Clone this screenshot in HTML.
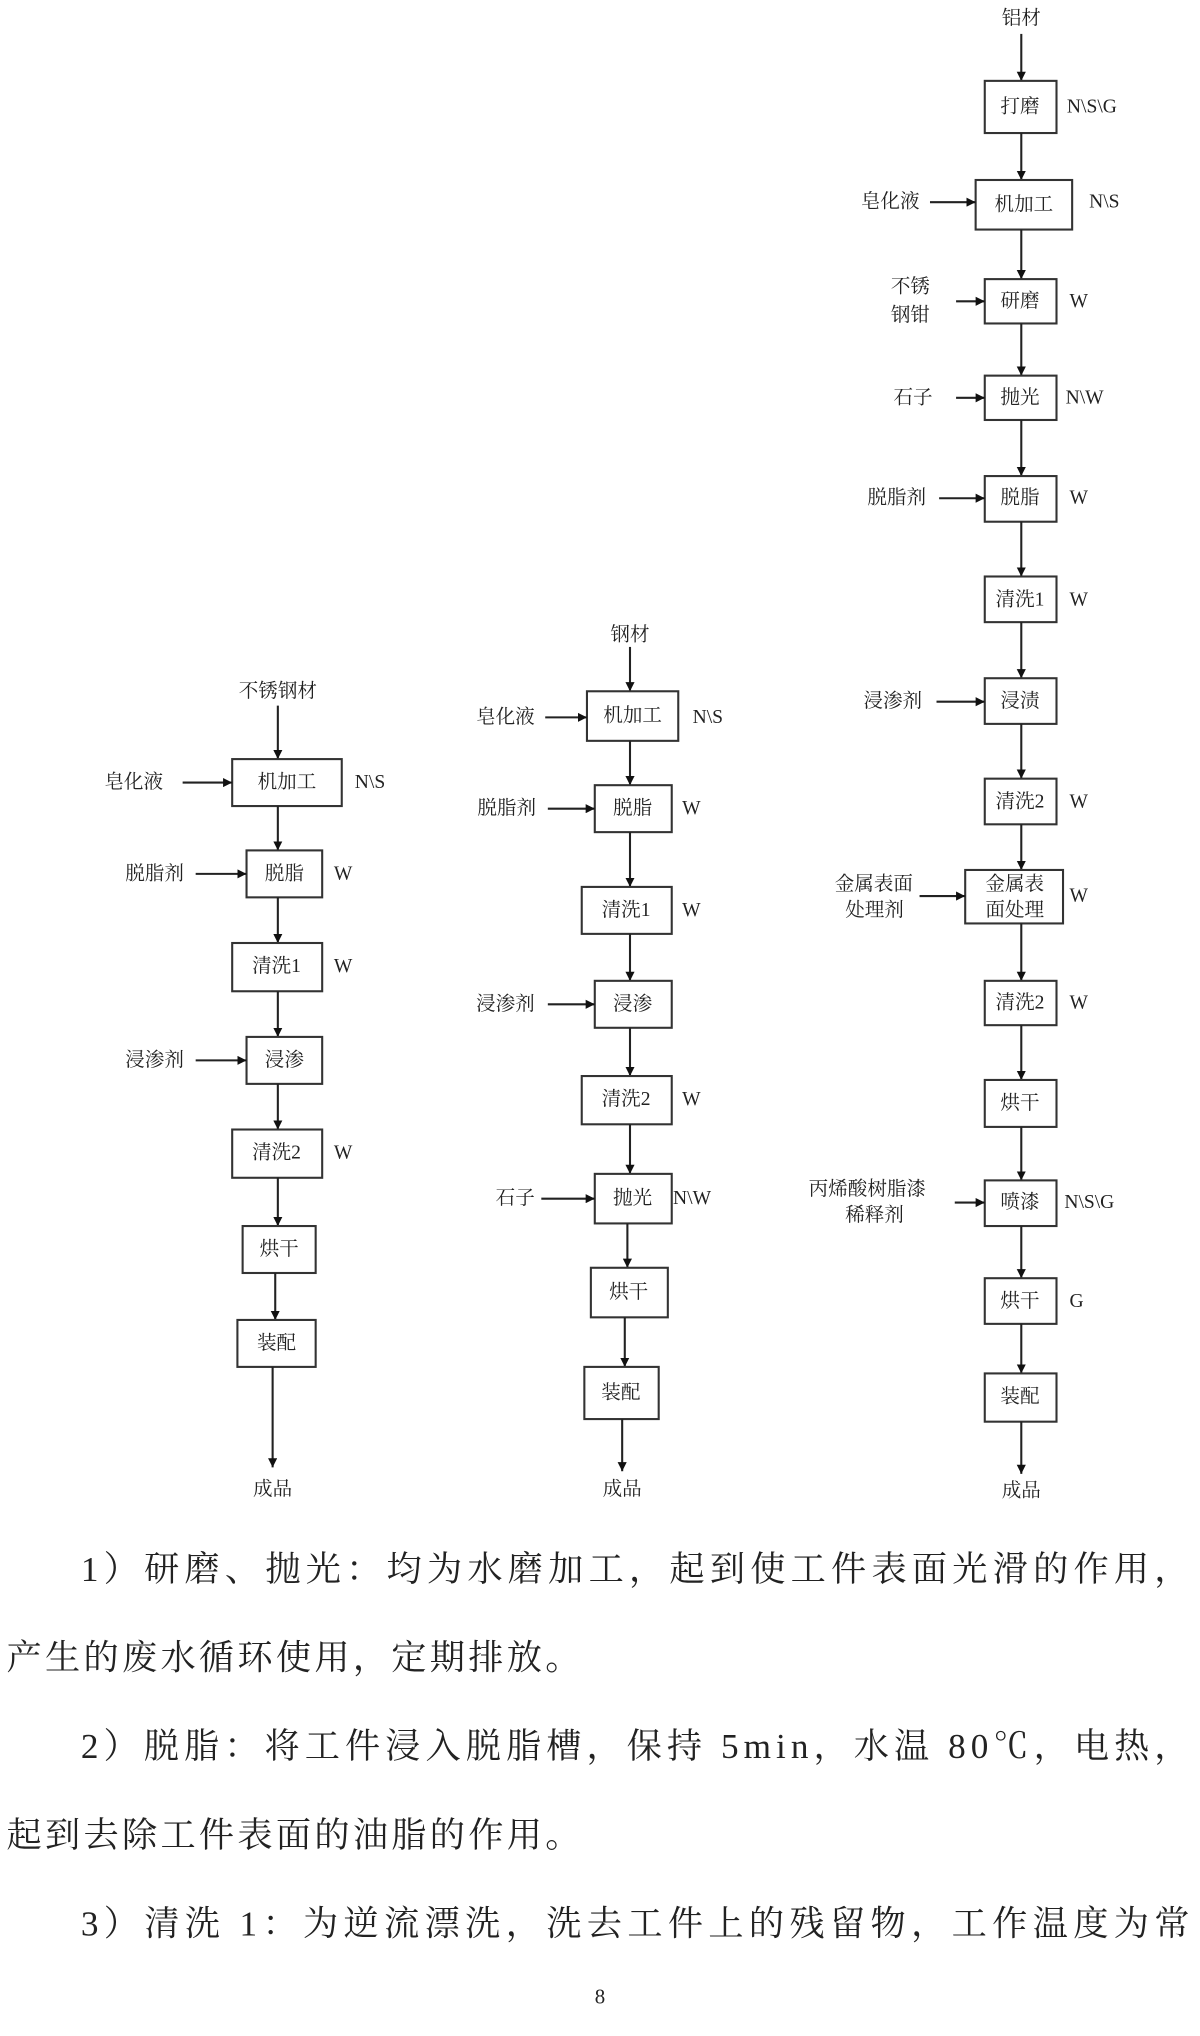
<!DOCTYPE html>
<html><head><meta charset="utf-8"><style>
html,body{margin:0;padding:0;background:#fff;}
svg{display:block;}
text{font-family:"Liberation Serif","Noto Serif CJK SC",serif;fill:#222;}
.b{fill:#fff;stroke:#333;stroke-width:1.6;}
.l{stroke:#222;stroke-width:1.6;fill:none;marker-end:url(#a);}
.t{font-size:15px;text-anchor:middle;dominant-baseline:central;}
.s{font-size:15px;dominant-baseline:central;}
.p{font-size:27px;font-family:"Liberation Serif","Noto Serif CJK SC",serif;}
</style></head><body>
<svg width="1200" height="2036" viewBox="0 0 920 1561" xmlns="http://www.w3.org/2000/svg">
<defs><marker id="a" viewBox="0 0 10 10" refX="10" refY="5" markerWidth="7" markerHeight="7" markerUnits="userSpaceOnUse" orient="auto"><path d="M0,0L10,5L0,10z" fill="#111"/></marker></defs>

<!-- Column 1 -->
<text class="t" x="213" y="530">不锈钢材</text>
<line class="l" x1="213" y1="541" x2="213" y2="582"/>
<rect class="b" x="178" y="582" width="84" height="36"/><text class="t" x="220" y="600">机加工</text>
<text class="s" x="80" y="600">皂化液</text><line class="l" x1="140" y1="600" x2="178" y2="600"/>
<text class="s" x="272" y="600">N\S</text>
<line class="l" x1="213" y1="618" x2="213" y2="652"/>
<rect class="b" x="189" y="652" width="58" height="36"/><text class="t" x="218" y="670">脱脂</text>
<text class="s" x="96" y="670">脱脂剂</text><line class="l" x1="150" y1="670" x2="189" y2="670"/>
<text class="s" x="256" y="670">W</text>
<line class="l" x1="213" y1="688" x2="213" y2="723"/>
<rect class="b" x="178" y="723" width="69" height="37"/><text class="t" x="212" y="741">清洗1</text>
<text class="s" x="256" y="741">W</text>
<line class="l" x1="213" y1="760" x2="213" y2="795"/>
<rect class="b" x="189" y="795" width="58" height="36"/><text class="t" x="218" y="813">浸渗</text>
<text class="s" x="96" y="813">浸渗剂</text><line class="l" x1="150" y1="813" x2="189" y2="813"/>
<line class="l" x1="213" y1="831" x2="213" y2="866"/>
<rect class="b" x="178" y="866" width="69" height="37"/><text class="t" x="212" y="884">清洗2</text>
<text class="s" x="256" y="884">W</text>
<line class="l" x1="213" y1="903" x2="213" y2="940"/>
<rect class="b" x="186" y="940" width="56" height="36"/><text class="t" x="214" y="958">烘干</text>
<line class="l" x1="211" y1="976" x2="211" y2="1012"/>
<rect class="b" x="182" y="1012" width="60" height="36"/><text class="t" x="212" y="1030">装配</text>
<line class="l" x1="209" y1="1048" x2="209" y2="1125"/>
<text class="t" x="209" y="1142">成品</text>

<!-- Column 2 -->
<text class="t" x="483" y="487">钢材</text>
<line class="l" x1="483" y1="496" x2="483" y2="530"/>
<rect class="b" x="450" y="530" width="70" height="38"/><text class="t" x="485" y="549">机加工</text>
<text class="s" x="365" y="550">皂化液</text><line class="l" x1="418" y1="550" x2="450" y2="550"/>
<text class="s" x="531" y="550">N\S</text>
<line class="l" x1="483" y1="568" x2="483" y2="602"/>
<rect class="b" x="456" y="602" width="59" height="36"/><text class="t" x="485" y="620">脱脂</text>
<text class="s" x="366" y="620">脱脂剂</text><line class="l" x1="420" y1="620" x2="456" y2="620"/>
<text class="s" x="523" y="620">W</text>
<line class="l" x1="483" y1="638" x2="483" y2="680"/>
<rect class="b" x="446" y="680" width="69" height="36"/><text class="t" x="480" y="698">清洗1</text>
<text class="s" x="523" y="698">W</text>
<line class="l" x1="483" y1="716" x2="483" y2="752"/>
<rect class="b" x="456" y="752" width="59" height="36"/><text class="t" x="485" y="770">浸渗</text>
<text class="s" x="365" y="770">浸渗剂</text><line class="l" x1="420" y1="770" x2="456" y2="770"/>
<line class="l" x1="483" y1="788" x2="483" y2="825"/>
<rect class="b" x="446" y="825" width="69" height="37"/><text class="t" x="480" y="843">清洗2</text>
<text class="s" x="523" y="843">W</text>
<line class="l" x1="483" y1="862" x2="483" y2="900"/>
<rect class="b" x="456" y="900" width="59" height="38"/><text class="t" x="485" y="919">抛光</text>
<text class="s" x="380" y="919">石子</text><line class="l" x1="415" y1="919" x2="456" y2="919"/>
<text class="s" x="516" y="919">N\W</text>
<line class="l" x1="481" y1="938" x2="481" y2="972"/>
<rect class="b" x="453" y="972" width="59" height="38"/><text class="t" x="482" y="991">烘干</text>
<line class="l" x1="479" y1="1010" x2="479" y2="1048"/>
<rect class="b" x="448" y="1048" width="57" height="40"/><text class="t" x="476" y="1068">装配</text>
<line class="l" x1="477" y1="1088" x2="477" y2="1128"/>
<text class="t" x="477" y="1142">成品</text>

<!-- Column 3 -->
<text class="t" x="783" y="14">铝材</text>
<line class="l" x1="783" y1="26" x2="783" y2="62"/>
<rect class="b" x="755" y="62" width="55" height="40"/><text class="t" x="782" y="82">打磨</text>
<text class="s" x="818" y="82">N\S\G</text>
<line class="l" x1="783" y1="102" x2="783" y2="138"/>
<rect class="b" x="748" y="138" width="74" height="38"/><text class="t" x="785" y="157">机加工</text>
<text class="s" x="660" y="155">皂化液</text><line class="l" x1="713" y1="155" x2="748" y2="155"/>
<text class="s" x="835" y="155">N\S</text>
<line class="l" x1="783" y1="176" x2="783" y2="214"/>
<rect class="b" x="755" y="214" width="55" height="34"/><text class="t" x="782" y="231">研磨</text>
<text class="s" x="683" y="220">不锈</text><text class="s" x="683" y="242">钢钳</text>
<line class="l" x1="733" y1="231" x2="755" y2="231"/>
<text class="s" x="820" y="231">W</text>
<line class="l" x1="783" y1="248" x2="783" y2="288"/>
<rect class="b" x="755" y="288" width="55" height="34"/><text class="t" x="782" y="305">抛光</text>
<text class="s" x="685" y="305">石子</text><line class="l" x1="733" y1="305" x2="755" y2="305"/>
<text class="s" x="817" y="305">N\W</text>
<line class="l" x1="783" y1="322" x2="783" y2="365"/>
<rect class="b" x="755" y="365" width="55" height="35"/><text class="t" x="782" y="382">脱脂</text>
<text class="s" x="665" y="382">脱脂剂</text><line class="l" x1="720" y1="382" x2="755" y2="382"/>
<text class="s" x="820" y="382">W</text>
<line class="l" x1="783" y1="400" x2="783" y2="442"/>
<rect class="b" x="755" y="442" width="55" height="35"/><text class="t" x="782" y="460">清洗1</text>
<text class="s" x="820" y="460">W</text>
<line class="l" x1="783" y1="477" x2="783" y2="520"/>
<rect class="b" x="755" y="520" width="55" height="35"/><text class="t" x="782" y="538">浸渍</text>
<text class="s" x="662" y="538">浸渗剂</text><line class="l" x1="718" y1="538" x2="755" y2="538"/>
<line class="l" x1="783" y1="555" x2="783" y2="597"/>
<rect class="b" x="755" y="597" width="55" height="35"/><text class="t" x="782" y="615">清洗2</text>
<text class="s" x="820" y="615">W</text>
<line class="l" x1="783" y1="632" x2="783" y2="667"/>
<rect class="b" x="740" y="667" width="75" height="41"/><text class="t" x="778" y="678">金属表</text><text class="t" x="778" y="698">面处理</text>
<text class="s" x="640" y="678">金属表面</text><text class="s" x="648" y="698">处理剂</text>
<line class="l" x1="705" y1="687" x2="740" y2="687"/>
<text class="s" x="820" y="687">W</text>
<line class="l" x1="783" y1="708" x2="783" y2="752"/>
<rect class="b" x="755" y="752" width="55" height="34"/><text class="t" x="782" y="769">清洗2</text>
<text class="s" x="820" y="769">W</text>
<line class="l" x1="783" y1="786" x2="783" y2="828"/>
<rect class="b" x="755" y="828" width="55" height="36"/><text class="t" x="782" y="846">烘干</text>
<line class="l" x1="783" y1="864" x2="783" y2="905"/>
<rect class="b" x="755" y="905" width="55" height="35"/><text class="t" x="782" y="922">喷漆</text>
<text class="s" x="620" y="912">丙烯酸树脂漆</text><text class="s" x="648" y="932">稀释剂</text>
<line class="l" x1="732" y1="922" x2="755" y2="922"/>
<text class="s" x="816" y="922">N\S\G</text>
<line class="l" x1="783" y1="940" x2="783" y2="980"/>
<rect class="b" x="755" y="980" width="55" height="35"/><text class="t" x="782" y="998">烘干</text>
<text class="s" x="820" y="998">G</text>
<line class="l" x1="783" y1="1015" x2="783" y2="1053"/>
<rect class="b" x="755" y="1053" width="55" height="37"/><text class="t" x="782" y="1071">装配</text>
<line class="l" x1="783" y1="1090" x2="783" y2="1130"/>
<text class="t" x="783" y="1143">成品</text>

<!-- Paragraph -->
<text class="p" x="62" y="1212" textLength="850" lengthAdjust="spacing">1）研磨、抛光：均为水磨加工，起到使工件表面光滑的作用，</text>
<text class="p" x="5" y="1280" textLength="440" lengthAdjust="spacing">产生的废水循环使用，定期排放。</text>
<text class="p" x="62" y="1348" textLength="850" lengthAdjust="spacing">2）脱脂：将工件浸入脱脂槽，保持 5min，水温 80℃，电热，</text>
<text class="p" x="5" y="1416" textLength="440" lengthAdjust="spacing">起到去除工件表面的油脂的作用。</text>
<text class="p" x="62" y="1484" textLength="850" lengthAdjust="spacing">3）清洗 1：为逆流漂洗，洗去工件上的残留物，工作温度为常</text>
<text x="460" y="1536" style="font-size:16px;text-anchor:middle">8</text>
</svg>
</body></html>
